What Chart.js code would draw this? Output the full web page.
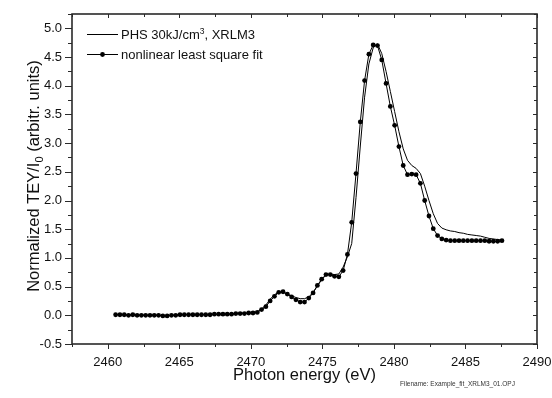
<!DOCTYPE html>
<html>
<head>
<meta charset="utf-8">
<script src="https://cdn.jsdelivr.net/npm/chart.js@4.4.1/dist/chart.umd.min.js"></script>
<style>
  html, body { margin: 0; padding: 0; background: #fff; }
  #wrap { width: 552px; height: 398px; position: relative; }
</style>
</head>
<body>
<div id="wrap"><canvas id="c" width="552" height="398"></canvas></div>
<script>
// Photon energy grid (eV)
const energy = [
  2460.55, 2460.85, 2461.15, 2461.45, 2461.75, 2462.05, 2462.35, 2462.65, 2462.95, 2463.25,
  2463.55, 2463.85, 2464.15, 2464.45, 2464.75, 2465.05, 2465.35, 2465.65, 2465.95, 2466.25,
  2466.55, 2466.85, 2467.15, 2467.45, 2467.75, 2468.05, 2468.35, 2468.65, 2468.95, 2469.25,
  2469.55, 2469.85, 2470.15, 2470.45, 2470.75, 2471.05, 2471.35, 2471.65, 2471.95, 2472.25,
  2472.55, 2472.85, 2473.15, 2473.45, 2473.75, 2474.05, 2474.35, 2474.65, 2474.95, 2475.25,
  2475.55, 2475.85, 2476.15, 2476.45, 2476.75, 2477.05, 2477.35, 2477.65, 2477.95, 2478.25,
  2478.55, 2478.85, 2479.15, 2479.45, 2479.75, 2480.05, 2480.35, 2480.65, 2480.95, 2481.25,
  2481.55, 2481.85, 2482.15, 2482.45, 2482.75, 2483.05, 2483.35, 2483.65, 2483.95, 2484.25,
  2484.55, 2484.85, 2485.15, 2485.45, 2485.75, 2486.05, 2486.35, 2486.65, 2486.95, 2487.25,
  2487.55
];

// Measured spectrum: PHS 30kJ/cm3, XRLM3
const measured = [
  0.01, 0.02, 0.01, 0.01, 0.01, 0.00, 0.01, 0.00, 0.00, 0.01,
  0.00, 0.00, -0.01, 0.00, 0.01, 0.01, 0.01, 0.02, 0.01, 0.01,
  0.02, 0.01, 0.02, 0.02, 0.02, 0.03, 0.02, 0.03, 0.03, 0.04,
  0.04, 0.04, 0.05, 0.06, 0.11, 0.18, 0.28, 0.36, 0.40, 0.40,
  0.37, 0.34, 0.31, 0.29, 0.29, 0.32, 0.40, 0.51, 0.62, 0.70,
  0.72, 0.71, 0.72, 0.84, 1.02, 1.25, 2.05, 2.95, 3.80, 4.38,
  4.66, 4.73, 4.56, 4.25, 3.90, 3.55, 3.20, 2.90, 2.70, 2.61,
  2.56, 2.47, 2.25, 2.00, 1.77, 1.60, 1.52, 1.49, 1.47, 1.46,
  1.44, 1.43, 1.41, 1.40, 1.39, 1.38, 1.36, 1.34, 1.33, 1.32,
  1.31
];

// Nonlinear least square fit
const fitted = [
  0.01, 0.01, 0.01, 0.00, 0.01, 0.00, 0.00, 0.00, 0.00, 0.00,
  0.00, -0.01, -0.01, 0.00, 0.00, 0.01, 0.01, 0.01, 0.01, 0.01,
  0.01, 0.01, 0.01, 0.02, 0.02, 0.02, 0.02, 0.02, 0.03, 0.03,
  0.03, 0.04, 0.04, 0.05, 0.10, 0.15, 0.25, 0.33, 0.40, 0.41,
  0.37, 0.32, 0.27, 0.23, 0.23, 0.30, 0.39, 0.52, 0.63, 0.71,
  0.71, 0.68, 0.67, 0.78, 1.06, 1.62, 2.47, 3.37, 4.09, 4.55,
  4.71, 4.70, 4.45, 4.04, 3.64, 3.31, 2.94, 2.61, 2.45, 2.46,
  2.45, 2.30, 2.00, 1.73, 1.51, 1.39, 1.33, 1.31, 1.30, 1.30,
  1.30, 1.30, 1.30, 1.30, 1.30, 1.30, 1.30, 1.29, 1.29, 1.29,
  1.30
];

const xTicks = [2460, 2465, 2470, 2475, 2480, 2485, 2490];
const xMinorTicks = [2457.5, 2462.5, 2467.5, 2472.5, 2477.5, 2482.5, 2487.5];
const yTicks = [-0.5, 0.0, 0.5, 1.0, 1.5, 2.0, 2.5, 3.0, 3.5, 4.0, 4.5, 5.0];
const yMinorTicks = [-0.25, 0.25, 0.75, 1.25, 1.75, 2.25, 2.75, 3.25, 3.75, 4.25, 4.75, 5.25];

const seriesNames = ['PHS 30kJ/cm', 'nonlinear least square fit'];

const FONT = '"Liberation Sans", Arial, Helvetica, sans-serif';
const INK = '#111';
const AXIS = '#2a2a2a';

function pts(xs, ys) { return xs.map((x, i) => ({ x: x, y: ys[i] })); }

function richWidth(ctx, parts) {
  let w = 0;
  for (const p of parts) { ctx.font = p.size + 'px ' + FONT; w += ctx.measureText(p.t).width; }
  return w;
}
function drawRich(ctx, parts, x, y) {
  for (const p of parts) {
    ctx.font = p.size + 'px ' + FONT;
    ctx.fillText(p.t, x, y + (p.dy || 0));
    x += ctx.measureText(p.t).width;
  }
}

// Frame, tick marks, axis titles, legend and file note
const decor = {
  id: 'decor',
  afterDraw(chart) {
    const { ctx, chartArea: a, scales: { x, y } } = chart;
    ctx.save();
    // ticks
    ctx.strokeStyle = AXIS;
    ctx.lineWidth = 1;
    ctx.beginPath();
    for (const v of xTicks) {
      const px = Math.round(x.getPixelForValue(v)) + 0.5;
      ctx.moveTo(px, a.bottom); ctx.lineTo(px, a.bottom + 5);
      ctx.moveTo(px, a.top); ctx.lineTo(px, a.top + 4);
    }
    for (const v of xMinorTicks) {
      const px = Math.round(x.getPixelForValue(v)) + 0.5;
      ctx.moveTo(px, a.bottom); ctx.lineTo(px, a.bottom + 3);
      ctx.moveTo(px, a.top); ctx.lineTo(px, a.top + 3);
    }
    for (const v of yTicks) {
      const py = Math.round(y.getPixelForValue(v)) + 0.5;
      ctx.moveTo(a.left, py); ctx.lineTo(a.left - 7, py);
      ctx.moveTo(a.right, py); ctx.lineTo(a.right - 4, py);
    }
    for (const v of yMinorTicks) {
      const py = Math.round(y.getPixelForValue(v)) + 0.5;
      ctx.moveTo(a.left, py); ctx.lineTo(a.left - 4, py);
      ctx.moveTo(a.right, py); ctx.lineTo(a.right - 3, py);
    }
    ctx.stroke();
    // frame
    ctx.lineWidth = 1.6;
    ctx.strokeRect(a.left, a.top, a.right - a.left, a.bottom - a.top);

    ctx.fillStyle = INK;
    ctx.textBaseline = 'alphabetic';
    ctx.textAlign = 'left';

    // x title
    const xt = [{ t: 'Photon energy (eV)', size: 16.5 }];
    const xw = richWidth(ctx, xt);
    drawRich(ctx, xt, (a.left + a.right) / 2 - xw / 2, 380);

    // y title (rotated)
    const yt = [
      { t: 'Normalized TEY/I', size: 16.5 },
      { t: '0', size: 11, dy: 4 },
      { t: ' (arbitr. units)', size: 16.5 }
    ];
    const yw = richWidth(ctx, yt);
    ctx.save();
    ctx.translate(39, 176);
    ctx.rotate(-Math.PI / 2);
    drawRich(ctx, yt, -yw / 2, 0);
    ctx.restore();

    // legend
    ctx.strokeStyle = '#000';
    ctx.lineWidth = 1;
    ctx.beginPath();
    ctx.moveTo(87, 34.5); ctx.lineTo(118, 34.5);
    ctx.moveTo(87, 54.5); ctx.lineTo(118, 54.5);
    ctx.stroke();
    ctx.beginPath();
    ctx.arc(102.5, 54.5, 2.4, 0, Math.PI * 2);
    ctx.fillStyle = '#000';
    ctx.fill();
    ctx.fillStyle = INK;
    drawRich(ctx, [
      { t: seriesNames[0], size: 13 },
      { t: '3', size: 8.5, dy: -5 },
      { t: ', XRLM3', size: 13 }
    ], 121, 39);
    drawRich(ctx, [{ t: seriesNames[1], size: 13 }], 121, 59);

    // file note
    ctx.fillStyle = '#333';
    drawRich(ctx, [{ t: 'Filename: Example_fit_XRLM3_01.OPJ', size: 6.5 }], 400, 386);
    ctx.restore();
  }
};

new Chart(document.getElementById('c'), {
  type: 'line',
  data: {
    datasets: [
      {
        label: 'PHS 30kJ/cm3, XRLM3',
        data: pts(energy, measured),
        borderColor: '#000',
        borderWidth: 1,
        pointRadius: 0,
        tension: 0,
        fill: false
      },
      {
        label: 'nonlinear least square fit',
        data: pts(energy, fitted),
        borderColor: '#000',
        borderWidth: 1,
        pointRadius: 2.4,
        pointBorderWidth: 0,
        pointBackgroundColor: '#000',
        tension: 0,
        fill: false
      }
    ]
  },
  options: {
    responsive: false,
    animation: false,
    devicePixelRatio: 1,
    layout: { padding: { top: 14, right: 15, left: 0, bottom: 0 } },
    plugins: { legend: { display: false }, tooltip: { enabled: false } },
    scales: {
      x: {
        type: 'linear',
        min: 2457.5,
        max: 2490,
        grid: { display: false, drawTicks: false },
        border: { display: false },
        afterBuildTicks: (s) => { s.ticks = xTicks.map(v => ({ value: v })); },
        afterFit: (s) => { s.height = 54; s.paddingLeft = 0; s.paddingRight = 0; },
        ticks: {
          autoSkip: false,
          maxRotation: 0,
          padding: 11,
          color: INK,
          font: { family: FONT, size: 13 },
          callback: (v) => String(v)
        }
      },
      y: {
        type: 'linear',
        min: -0.5,
        max: 5.25,
        grid: { display: false, drawTicks: false },
        border: { display: false },
        afterBuildTicks: (s) => { s.ticks = yTicks.map(v => ({ value: v })); },
        afterFit: (s) => { s.width = 72; s.paddingTop = 0; s.paddingBottom = 0; },
        ticks: {
          autoSkip: false,
          padding: 10,
          color: INK,
          font: { family: FONT, size: 13 },
          callback: (v) => Number(v).toFixed(1)
        }
      }
    }
  },
  plugins: [decor]
});
</script>
</body>
</html>
